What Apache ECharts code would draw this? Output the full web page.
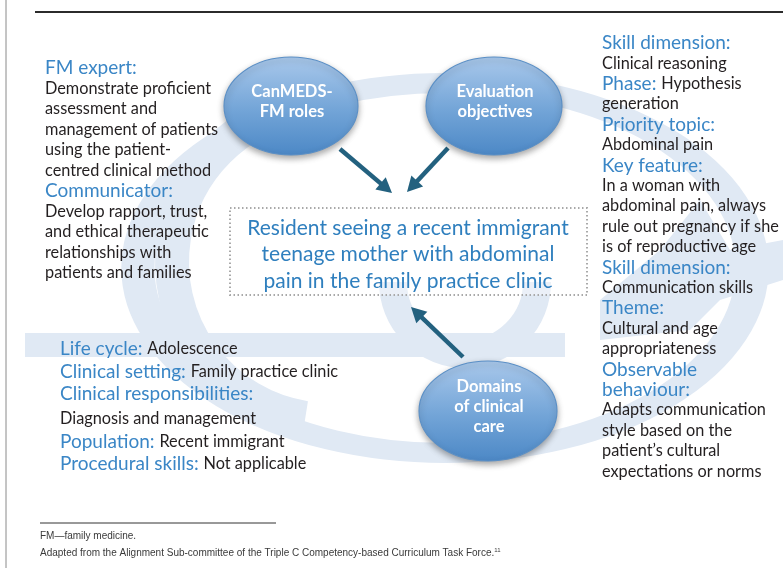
<!DOCTYPE html>
<html>
<head>
<meta charset="utf-8">
<script src="https://cdn.jsdelivr.net/npm/echarts@6/dist/echarts.min.js"></script>
<style>
  html, body { margin: 0; padding: 0; background: #fff; }
  #main { width: 783px; height: 568px; }
</style>
</head>
<body>
<div id="main"></div>
<script>
// text content of the figure
var leftLines = [
  ['FM expert:', ''],
  ['', 'Demonstrate proficient'],
  ['', 'assessment and'],
  ['', 'management of patients'],
  ['', 'using the patient-'],
  ['', 'centred clinical method'],
  ['Communicator:', ''],
  ['', 'Develop rapport, trust,'],
  ['', 'and ethical therapeutic'],
  ['', 'relationships with'],
  ['', 'patients and families']
];
var rightLines = [
  ['Skill dimension:', ''],
  ['', 'Clinical reasoning'],
  ['Phase: ', 'Hypothesis'],
  ['', 'generation'],
  ['Priority topic:', ''],
  ['', 'Abdominal pain'],
  ['Key feature:', ''],
  ['', 'In a woman with'],
  ['', 'abdominal pain, always'],
  ['', 'rule out pregnancy if she'],
  ['', 'is of reproductive age'],
  ['Skill dimension:', ''],
  ['', 'Communication skills'],
  ['Theme:', ''],
  ['', 'Cultural and age'],
  ['', 'appropriateness'],
  ['Observable', ''],
  ['behaviour:', ''],
  ['', 'Adapts communication'],
  ['', 'style based on the'],
  ['', 'patient\u2019s cultural'],
  ['', 'expectations or norms']
];
var bottomLines = [
  ['Life cycle: ', 'Adolescence'],
  ['Clinical setting: ', 'Family practice clinic'],
  ['Clinical responsibilities:', ''],
  ['', 'Diagnosis and management'],
  ['Population: ', 'Recent immigrant'],
  ['Procedural skills: ', 'Not applicable']
];
var centerLines = [
  'Resident seeing a recent immigrant',
  'teenage mother with abdominal',
  'pain in the family practice clinic'
];
var bubbleNames = [
  ['CanMEDS-', 'FM roles'],
  ['Evaluation', 'objectives'],
  ['Domains', 'of clinical', 'care']
];
var footNotes = [
  'FM\u2014family medicine.',
  'Adapted from the Alignment Sub-committee of the Triple C Competency-based Curriculum Task Force.'
];

var FONT = 'Lato, "Open Sans", sans-serif';
var NARROW = '"Liberation Sans Narrow", sans-serif';
var BLUE = '#3a86c6';
var INK = '#231f20';
var WASH = '#e0e9f4';
var ARROW = '#23617f';

var chart = echarts.init(document.getElementById('main'));
var els = [];

// pale logo in the background
els.push({ type: 'circle', z: 0, x: 445, y: 268, scaleX: 1.66, shape: { cx: 0, cy: 0, r: 185 },
  style: { fill: 'none', stroke: WASH, lineWidth: 20 } });
els.push({ type: 'arc', z: 0, shape: { cx: 330, cy: 262, r: 158, startAngle: Math.PI * 0.55, endAngle: Math.PI * 1.45 },
  style: { fill: 'none', stroke: WASH, lineWidth: 34 } });
els.push({ type: 'arc', z: 0, shape: { cx: 465, cy: 282, r: 72, startAngle: 0, endAngle: Math.PI },
  style: { fill: 'none', stroke: WASH, lineWidth: 28 } });
els.push({ type: 'rect', z: 0, shape: { x: 25, y: 333, width: 540, height: 24 }, style: { fill: WASH } });
els.push({ type: 'polygon', z: 0, shape: { points: [[600, 300], [660, 250], [700, 200], [730, 250], [783, 240], [783, 280], [720, 300], [690, 330], [600, 340]] },
  style: { fill: WASH } });

// frame lines
els.push({ type: 'line', z: 5, shape: { x1: 6, y1: 0, x2: 6, y2: 568 }, style: { stroke: '#8a8a8a', lineWidth: 1 } });
els.push({ type: 'line', z: 5, shape: { x1: 35, y1: 12, x2: 783, y2: 12 }, style: { stroke: '#2b2b2b', lineWidth: 2 } });

function richLine(l) {
  return (l[0] ? '{h|' + l[0] + '}' : '') + (l[1] ? '{b|' + l[1] + '}' : '');
}
var rich = {
  h: { fill: BLUE, fontSize: 19, fontFamily: FONT },
  b: { fill: INK, fontSize: 16.3, fontFamily: FONT }
};
function column(lines, x, ys) {
  lines.forEach(function (l, i) {
    els.push({ type: 'text', z: 10, x: x, y: ys[i],
      style: { text: richLine(l), rich: rich, align: 'left', verticalAlign: 'middle' } });
  });
}
column(leftLines, 45, leftLines.map(function (d, i) { return 68 + i * 20.5; }));
column(rightLines, 602, rightLines.map(function (d, i) { return 43 + i * 20.4; }));
column(bottomLines, 60, [349, 372, 394, 419, 442, 464]);

// central scenario box
els.push({ type: 'rect', z: 8, shape: { x: 230, y: 208, width: 357, height: 87 },
  style: { fill: 'rgba(255,255,255,0.35)', stroke: '#a9a9a9', lineWidth: 2, lineDash: [1.5, 2.5] } });
centerLines.forEach(function (t, i) {
  els.push({ type: 'text', z: 10, x: 408, y: 228 + i * 26.5,
    style: { text: t, fill: '#2f7fbe', font: '21px ' + FONT, align: 'center', verticalAlign: 'middle' } });
});

// bubbles
var bubbles = [
  { cx: 291, cy: 106, rx: 67, ry: 49 },
  { cx: 494, cy: 106, rx: 68, ry: 49 },
  { cx: 488, cy: 411, rx: 69, ry: 50 }
];
bubbles.forEach(function (b, k) {
  els.push({ type: 'circle', z: 12, x: b.cx, y: b.cy, scaleX: b.rx / b.ry, shape: { cx: 0, cy: 0, r: b.ry },
    style: {
      fill: new echarts.graphic.LinearGradient(0, 0, 0, 1, [
        { offset: 0, color: '#a9c8eb' }, { offset: 0.55, color: '#72a4d7' }, { offset: 1, color: '#4c88c6' }
      ]),
      stroke: '#5a8fc6', lineWidth: 0.8,
      shadowBlur: 6, shadowOffsetY: 3, shadowColor: 'rgba(0,0,0,0.35)'
    } });
  var names = bubbleNames[k];
  var y0 = b.cy - (names.length - 1) * 10 - 4;
  names.forEach(function (t, i) {
    els.push({ type: 'text', z: 14, x: b.cx + 1, y: y0 + i * 20,
      style: { text: t, fill: '#ffffff', font: 'bold 16.5px ' + FONT, align: 'center', verticalAlign: 'middle' } });
  });
});

// arrows
var arrows = [
  [[340, 149], [392, 193]],
  [[448, 148], [407, 192]],
  [[463, 357], [411, 307]]
];
arrows.forEach(function (a) {
  var x1 = a[0][0], y1 = a[0][1], x2 = a[1][0], y2 = a[1][1];
  var dx = x2 - x1, dy = y2 - y1, len = Math.sqrt(dx * dx + dy * dy);
  var ux = dx / len, uy = dy / len, hl = 15, hw = 8;
  var bx = x2 - ux * hl, by = y2 - uy * hl;
  els.push({ type: 'line', z: 11, shape: { x1: x1, y1: y1, x2: bx + ux * 2, y2: by + uy * 2 },
    style: { stroke: ARROW, lineWidth: 4.5 } });
  els.push({ type: 'polygon', z: 11, shape: { points: [[x2, y2], [bx - uy * hw, by + ux * hw], [bx + uy * hw, by - ux * hw]] },
    style: { fill: ARROW } });
});

// footnotes
els.push({ type: 'line', z: 5, shape: { x1: 40, y1: 523, x2: 276, y2: 523 }, style: { stroke: '#333', lineWidth: 1 } });
els.push({ type: 'text', z: 10, x: 40, y: 536,
  style: { text: footNotes[0], fill: '#3a3a3a', font: '10px ' + NARROW, verticalAlign: 'middle' } });
els.push({ type: 'text', z: 10, x: 40, y: 553,
  style: { text: '{t|' + footNotes[1] + '}{s|11}', verticalAlign: 'middle',
    rich: { t: { fill: '#3a3a3a', fontSize: 10, fontFamily: NARROW },
            s: { fill: '#3a3a3a', fontSize: 6, fontFamily: NARROW, verticalAlign: 'top', padding: [0, 0, 5, 0] } } } });

chart.setOption({
  backgroundColor: '#ffffff',
  animation: false,
  graphic: { elements: els }
});
</script>
</body>
</html>
